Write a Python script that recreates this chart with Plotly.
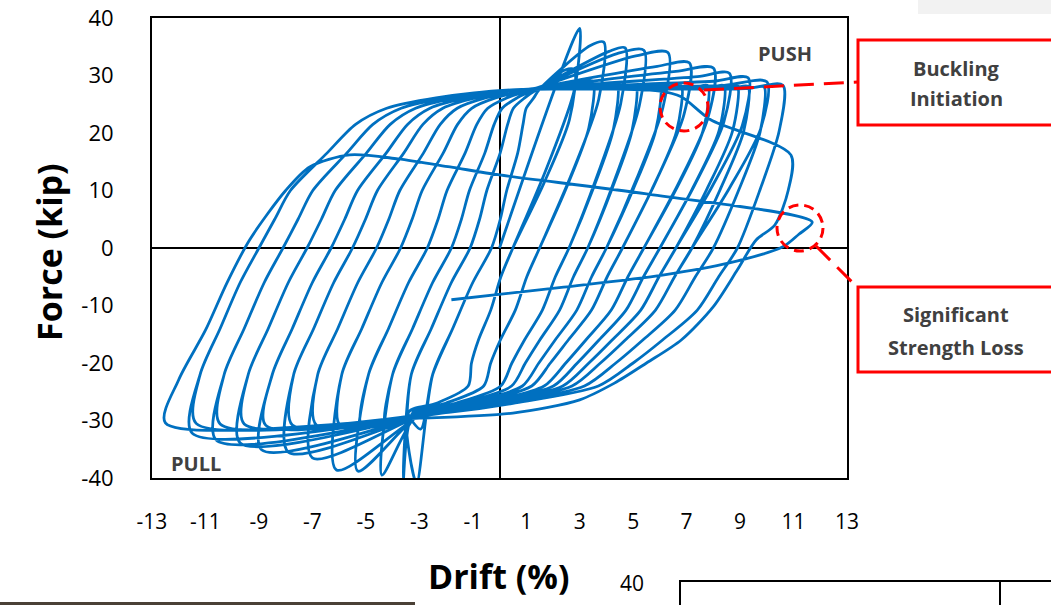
import plotly.graph_objects as go

# ---------------- data ----------------
# 11 drift levels; first (peak) excursion of each level on the push side
p1_drift = [3.0, 3.9, 4.7, 5.4, 6.3, 7.1, 8.0, 8.6, 9.3, 10.0, 10.6]
p1_force = [38.2, 35.8, 34.8, 34.4, 34.0, 32.2, 31.3, 30.4, 29.6, 28.9, 28.3]
p1_shoulder = [2.5, 3.4, 4.1, 4.4, 5.1, 5.9, 6.6, 7.4, 8.0, 8.4, 9.2]
# repeated excursion of each level (plateau tip)
p2_drift = [2.8, 3.5, 4.4, 5.1, 6.0, 6.8, 7.8, 8.4, 8.9, 9.3, 9.9]
p2_force = [31.0, 29.0, 28.5, 28.3, 28.3, 28.2, 28.2, 28.2, 28.2, 28.1, 28.0]
# pull side corners
n1_drift = [-3.1, -3.6, -4.4, -5.3, -6.1, -7.0, -7.9, -8.9, -9.7, -10.6, -11.5]
n1_force = [-41.0, -40.5, -39.5, -38.8, -38.6, -36.5, -35.5, -35.1, -33.9, -33.4, -32.2]
n2_drift = [-2.95, -3.45, -4.25, -5.15, -5.95, -6.85, -7.75, -8.75, -9.55, -10.45, -11.35]
n2_force = [-31.5, -31.2, -31.0, -31.0, -31.0, -30.8, -30.8, -30.8, -30.6, -30.6, -30.5]
# zero-force crossings of the unloading / reloading branches
unload_zero1 = [0.5, 1.5, 2.6, 3.3, 4.0, 4.6, 5.4, 6.0, 6.6, 7.2, 8.9]
unload_zero2 = [0.5, 1.5, 2.6, 3.3, 4.0, 4.6, 5.4, 6.0, 6.6, 7.2, 8.0]
reload_zero = [-0.3, -1.1, -1.8, -2.7, -3.7, -4.6, -5.5, -6.3, -7.2, -8.1, -9.0]

# outer reloading branch (zero crossing -9.3) and how the inner ones converge to it
reload_ref_zero = -9.3
reload_ref_force = [-22.0, -14.0, -6.0, 0.0, 5.0, 10.0, 16.5, 21.5, 24.3, 26.1, 27.5]
reload_ref_drift = [-11.5, -10.75, -10.0, -9.3, -8.7, -8.1, -6.7, -5.6, -4.4, -2.5, 0.4]
reload_converge = [1.0, 1.0, 1.0, 1.0, 0.97, 0.93, 0.82, 0.72, 0.6, 0.42, 0.12]
# outer unloading branch (zero crossing 8.9) and its convergence
unload_ref_zero = 8.9
unload_ref_force = [0.0, -5.0, -10.8, -16.0, -20.0, -24.0, -27.0, -28.6]
unload_ref_drift = [8.9, 8.2, 7.4, 6.1, 5.0, 3.7, 0.5, -1.9]
unload_converge = [1.0, 0.97, 0.92, 0.82, 0.72, 0.58, 0.34, 0.18]
unload_top_fforce = [0.72, 0.36]
unload_top_frac = [0.08, 0.5]

# last cycles: buckling initiation and significant strength loss
buckle_drift = [6.0, 6.8, 7.9, 10.9]
buckle_force = [27.3, 26.3, 22.3, 16.2]
buckle_unload_drift = [10.8, 10.3, 9.6, 8.9, 8.0, 6.8, 5.5, 4.3, 3.0, 0.5, -3.0, -12.5]
buckle_unload_force = [10.0, 4.0, 1.4, -3.8, -10.2, -16.0, -20.0, -23.5, -26.4, -28.7, -29.6, -30.4]
loss_drift = [-12.0, -11.0, -10.2, -9.35, -8.0, -7.1, -5.6, -3.8, -1.85, 0.0, 5.5, 11.7]
loss_force = [-22.9, -14.3, -6.1, 1.4, 10.0, 14.1, 16.2, 15.5, 14.1, 12.7, 9.4, 4.5]
final_drift = [11.2, 10.6, 8.6, 6.1, 2.4, -1.8]
final_force = [2.4, 0.2, -2.6, -4.7, -6.8, -9.0]
start_drift, start_force = 0.0, 0.0

x_ticks = [-13, -11, -9, -7, -5, -3, -1, 1, 3, 5, 7, 9, 11, 13]
y_ticks = [-40, -30, -20, -10, 0, 10, 20, 30, 40]

# ---------------- build the load path ----------------
X, Y = [start_drift], [start_force]


def reload_to_plateau(rz):
    s = rz - reload_ref_zero
    for f, xo, c in zip(reload_ref_force, reload_ref_drift, reload_converge):
        X.append(xo + s * c); Y.append(f)


def reload(rz, dp, fp, shoulder=None):
    reload_to_plateau(rz)
    if shoulder is not None:
        X.append(shoulder); Y.append(fp - 0.6)
    else:
        X.append(dp - 0.35); Y.append(fp - 0.05)
    X.append(dp); Y.append(fp)


def unload(dp, fp, uz, dn, fn):
    for ff, fr in zip(unload_top_fforce, unload_top_frac):
        X.append(dp - (dp - uz) * fr); Y.append(fp * ff)
    s = uz - unload_ref_zero
    for f, xo, c in zip(unload_ref_force, unload_ref_drift, unload_converge):
        X.append(xo + s * c); Y.append(f)
    X.append(dn); Y.append(fn)


for k in range(len(p1_drift)):
    if k == 0:
        X.append(p1_drift[0]); Y.append(p1_force[0])
    else:
        reload(reload_zero[k - 1], p1_drift[k], p1_force[k], p1_shoulder[k])
    unload(p1_drift[k], p1_force[k], unload_zero1[k], n1_drift[k], n1_force[k])
    reload(reload_zero[k], p2_drift[k], p2_force[k])
    unload(p2_drift[k], p2_force[k], unload_zero2[k], n2_drift[k], n2_force[k])

reload_to_plateau(reload_zero[-1])
X += buckle_drift; Y += buckle_force
X += buckle_unload_drift; Y += buckle_unload_force
X += loss_drift; Y += loss_force
X += final_drift; Y += final_force

# ---------------- figure ----------------
W, H = 1051, 605
SL, SR, ST, SB = 152, 847, 18, 478         # plot box on screen


def px(x):
    return (x - SL) / (SR - SL)


def py(y):
    return (SB - y) / (SB - ST)


fig = go.Figure()
fig.add_trace(go.Scatter(x=X, y=Y, mode="lines",
                         line=dict(color="#0070C0", width=2.8, shape="spline", smoothing=0.8),
                         hoverinfo="skip"))

fig.update_layout(
    template="none",
    width=W, height=H,
    margin=dict(l=SL, r=W - SR, t=ST, b=H - SB, autoexpand=False),
    paper_bgcolor="white", plot_bgcolor="white",
    showlegend=False,
    font=dict(family="Open Sans", color="black"),
    xaxis=dict(range=[-13, 13], tickvals=x_ticks, ticktext=[str(v) for v in x_ticks],
               automargin=False, ticklabeloverflow="allow",
               showgrid=False, zeroline=True, zerolinecolor="black", zerolinewidth=2,
               showline=True, mirror=True, linecolor="black", linewidth=2,
               ticks="", ticklabelstandoff=24,
               tickfont=dict(family="Open Sans", size=21, color="black")),
    yaxis=dict(range=[-40, 40], tickvals=y_ticks, ticktext=[str(v) for v in y_ticks],
               automargin=False, ticklabeloverflow="allow",
               showgrid=False, zeroline=True, zerolinecolor="black", zerolinewidth=2,
               showline=True, mirror=True, linecolor="black", linewidth=2,
               ticks="", ticklabelstandoff=32,
               tickfont=dict(family="Open Sans", size=22, color="black")),
)

red = "#FF0000"
shapes = []
shapes.append(dict(type="rect", xref="paper", yref="paper", layer="below",
                   x0=px(918), x1=px(1070), y0=py(14), y1=py(-10),
                   line=dict(width=0), fillcolor="#f2f2f2"))
for cx, cy, r in [(684, 107, 24), (800, 228, 23)]:
    shapes.append(dict(type="circle", xref="paper", yref="paper",
                       x0=px(cx - r), x1=px(cx + r), y0=py(cy + r), y1=py(cy - r),
                       line=dict(color=red, width=3, dash="10px,6px")))
for (x0, y0, x1, y1) in [(704, 90, 858, 82), (816, 246, 858, 288)]:
    shapes.append(dict(type="line", xref="paper", yref="paper",
                       x0=px(x0), y0=py(y0), x1=px(x1), y1=py(y1),
                       line=dict(color=red, width=3, dash="20px,10px")))
for (x0, y0, x1, y1) in [(858, 40, 1070, 125), (858, 287, 1070, 372)]:
    shapes.append(dict(type="rect", xref="paper", yref="paper",
                       x0=px(x0), y0=py(y1), x1=px(x1), y1=py(y0),
                       line=dict(color=red, width=3), fillcolor="rgba(0,0,0,0)"))
shapes.append(dict(type="rect", xref="paper", yref="paper", x0=px(680), x1=px(1070),
                   y0=py(630), y1=py(581), line=dict(color="black", width=2)))
shapes.append(dict(type="line", xref="paper", yref="paper", x0=px(1000), x1=px(1000),
                   y0=py(630), y1=py(581), line=dict(color="black", width=2)))
shapes.append(dict(type="rect", xref="paper", yref="paper", x0=px(-10), x1=px(415),
                   y0=py(615), y1=py(602), line=dict(width=0), fillcolor="#4a4036"))
fig.update_layout(shapes=shapes)

gray = "#404040"
ann = []


def text(x, y, s, size, bold=True, color=gray, angle=0, family="Open Sans"):
    ann.append(dict(x=px(x), y=py(y), xref="paper", yref="paper",
                    text=("<b>%s</b>" % s) if bold else s,
                    showarrow=False, xanchor="center", yanchor="middle", textangle=angle,
                    font=dict(family=family, size=size, color=color)))


text(785, 53, "PUSH", 20)
text(196, 463, "PULL", 20)
text(957, 68, "Buckling", 20)
text(957, 99, "Initiation", 20)
text(956, 314, "Significant", 20)
text(956, 347, "Strength Loss", 20)
text(49, 252, "Force (kip)", 34, color="black", angle=-90)
text(498, 576, "Drift (%)", 34, color="black")
text(632, 583, "40", 21, bold=False, color="black")
fig.update_layout(annotations=ann)

# place the figure at the very top-left of the page (no default body margin)
fig.write_html("out.html", config={"displayModeBar": False},
               post_script="document.body.style.margin='0';")
